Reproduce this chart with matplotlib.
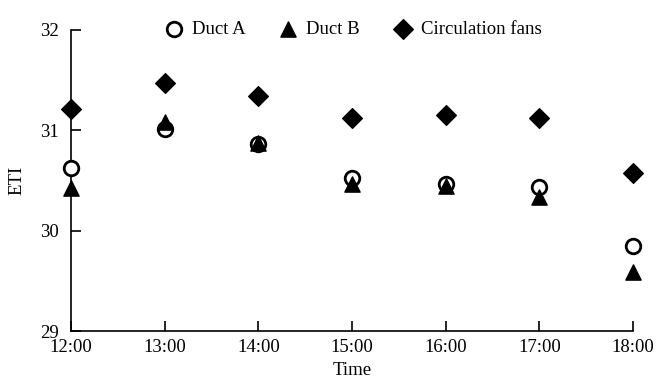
import matplotlib.pyplot as plt

plt.rcParams['font.family'] = ['Liberation Serif', 'DejaVu Serif']

times = ["12:00", "13:00", "14:00", "15:00", "16:00", "17:00", "18:00"]
duct_a = [30.62, 31.01, 30.86, 30.52, 30.47, 30.44, 29.85]
duct_b = [30.43, 31.08, 30.87, 30.47, 30.45, 30.34, 29.59]
circulation_fans = [31.21, 31.47, 31.34, 31.12, 31.15, 31.12, 30.57]


def main():
    fig = plt.figure(figsize=(6.56, 3.81), dpi=100)
    ax = fig.add_axes([71 / 656, 50 / 381, 562 / 656, 301 / 381])
    x = list(range(len(times)))

    ax.scatter(x, duct_a, marker='o', s=110, facecolors='white', edgecolors='black',
               linewidths=2, label='Duct A', zorder=3, clip_on=False)
    ax.scatter(x, duct_b, marker='^', s=120, color='black', label='Duct B', zorder=4,
               clip_on=False)
    ax.scatter(x, circulation_fans, marker='D', s=100, color='black',
               label='Circulation fans', zorder=3, clip_on=False)

    ax.set_xlim(0, len(times) - 1)
    ax.set_ylim(29, 32)
    ax.set_xticks(x)
    ax.set_xticklabels(times)
    ax.set_yticks([29, 30, 31, 32])
    ax.tick_params(direction='in', length=7, width=1.2, labelsize=13.5)
    ax.tick_params(axis='x', pad=6)
    ax.tick_params(axis='y', pad=9)
    ax.spines['top'].set_visible(False)
    ax.spines['right'].set_visible(False)
    ax.spines['left'].set_linewidth(1.2)
    ax.spines['bottom'].set_linewidth(1.2)
    ax.set_xlabel('Time', fontsize=13.5, labelpad=4)
    ax.set_ylabel('ETI', fontsize=13.5, labelpad=10)

    ax.legend(loc='lower center', bbox_to_anchor=(0.5, 0.95), ncol=3, frameon=False,
              fontsize=13.5, handletextpad=0.35, columnspacing=1.7, borderaxespad=0,
              handlelength=1.2)

    fig.savefig('out.png', dpi=100)


if __name__ == "__main__":
    main()
